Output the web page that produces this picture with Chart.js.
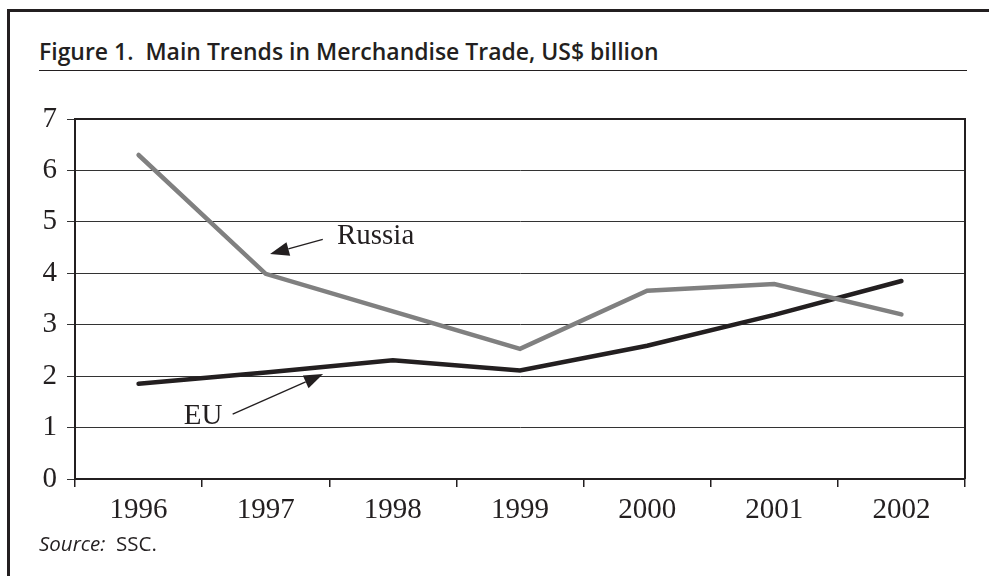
<!DOCTYPE html>
<html>
<head>
<meta charset="utf-8">
<script src="https://cdn.jsdelivr.net/npm/chart.js@4.4.0/dist/chart.umd.min.js"></script>
<style>
  html, body { margin: 0; padding: 0; background: #fff; }
  #wrap { position: relative; width: 989px; height: 576px; overflow: hidden; }
  #frame { position: absolute; left: 7px; top: 9px; width: 1200px; height: 800px;
           border-top: 3px solid #231f20; border-left: 3px solid #231f20; }
  #title { position: absolute; left: 39px; top: 36px; font-family: "Open Sans", Lato, sans-serif;
           font-weight: 600; font-size: 23px; line-height: 31px; color: #231f20; white-space: pre; }
  #rule { position: absolute; left: 39px; top: 70px; width: 928px; height: 0;
          border-top: 1.5px solid #231f20; }
  #source { position: absolute; left: 39px; top: 529px; font-family: "Open Sans", Lato, sans-serif;
            font-size: 20.5px; color: #231f20; white-space: pre; }
  canvas { position: absolute; left: 0; top: 0; }
</style>
</head>
<body>
<div id="wrap">
  <div id="frame"></div>
  <div id="title">Figure 1.  Main Trends in Merchandise Trade, US$ billion</div>
  <div id="rule"></div>
  <canvas id="c" width="989" height="576"></canvas>
  <div id="source"><i>Source:</i>  SSC.</div>
</div>
<script>
// Merchandise trade, US$ billion
const years = ['1996', '1997', '1998', '1999', '2000', '2001', '2002'];
const russia = [6.3, 3.99, 3.26, 2.53, 3.66, 3.79, 3.2];
const eu = [1.85, 2.07, 2.31, 2.11, 2.59, 3.19, 3.85];
const yTickValues = [0, 1, 2, 3, 4, 5, 6, 7];

const ink = '#231f20';
const serif = '"Liberation Serif", "Times New Roman", serif';
const tickSize = 29;

// size the heading so it spans the printed text block
(function fitTitle() {
  const t = document.getElementById('title');
  const target = 620;
  const w = t.getBoundingClientRect().width;
  if (w > 0) {
    const size = 23 * target / w;
    t.style.fontSize = size.toFixed(2) + 'px';
  }
})();

function arrow(ctx, x1, y1, x2, y2) {
  const ang = Math.atan2(y2 - y1, x2 - x1);
  const len = 19, half = 7;
  const bx = x2 - len * Math.cos(ang), by = y2 - len * Math.sin(ang);
  ctx.beginPath();
  ctx.moveTo(x1, y1);
  ctx.lineTo(bx, by);
  ctx.lineWidth = 1.3;
  ctx.strokeStyle = ink;
  ctx.stroke();
  ctx.beginPath();
  ctx.moveTo(x2, y2);
  ctx.lineTo(bx + half * Math.sin(ang), by - half * Math.cos(ang));
  ctx.lineTo(bx - half * Math.sin(ang), by + half * Math.cos(ang));
  ctx.closePath();
  ctx.fillStyle = ink;
  ctx.fill();
}

const decorations = {
  id: 'decorations',
  afterDraw(chart) {
    const { ctx, chartArea: a, scales: { x, y } } = chart;
    ctx.save();
    // closing top and right edges of the plot box
    ctx.strokeStyle = ink;
    ctx.lineWidth = 2;
    ctx.beginPath();
    ctx.moveTo(a.left, a.top);
    ctx.lineTo(a.right, a.top);
    ctx.lineTo(a.right, a.bottom);
    ctx.stroke();

    // series labels with pointers
    ctx.font = tickSize + 'px ' + serif;
    ctx.fillStyle = ink;
    ctx.textBaseline = 'alphabetic';
    ctx.textAlign = 'left';
    ctx.fillText('Russia', x.getPixelForValue(1.56), y.getPixelForValue(4.57));
    arrow(ctx, x.getPixelForValue(1.449), y.getPixelForValue(4.66),
               x.getPixelForValue(1.034), y.getPixelForValue(4.375));
    ctx.textAlign = 'center';
    ctx.fillText('EU', x.getPixelForValue(0.507), y.getPixelForValue(1.07));
    arrow(ctx, x.getPixelForValue(0.74), y.getPixelForValue(1.26),
               x.getPixelForValue(1.451), y.getPixelForValue(2.04));
    ctx.restore();
  }
};

new Chart(document.getElementById('c'), {
  type: 'line',
  data: {
    labels: years,
    datasets: [
      { label: 'Russia', data: russia, borderColor: '#808080', borderWidth: 4.5,
        pointRadius: 0, tension: 0, borderCapStyle: 'round', borderJoinStyle: 'miter' },
      { label: 'EU', data: eu, borderColor: ink, borderWidth: 4.5,
        pointRadius: 0, tension: 0, borderCapStyle: 'round', borderJoinStyle: 'miter' }
    ]
  },
  options: {
    responsive: false,
    animation: false,
    devicePixelRatio: 1,
    layout: { padding: { left: 0, top: 119, right: 24, bottom: 0 } },
    plugins: { legend: { display: false }, tooltip: { enabled: false }, title: { display: false } },
    scales: {
      x: {
        type: 'category',
        offset: true,
        afterFit(s) { s.height = 97; },
        grid: { offset: true, drawOnChartArea: false, drawTicks: true, tickLength: 8,
                color: ink, lineWidth: 1.5 },
        border: { display: true, color: ink, width: 2 },
        ticks: { font: { family: serif, size: tickSize }, color: ink, padding: 6, maxRotation: 0 }
      },
      y: {
        min: 0, max: 7,
        afterFit(s) { s.width = 75; },
        afterBuildTicks(s) { s.ticks = yTickValues.map(v => ({ value: v })); },
        grid: { color: '#333333', lineWidth: 1, drawTicks: true, tickLength: 8 },
        border: { display: true, color: ink, width: 2 },
        ticks: { font: { family: serif, size: tickSize }, color: ink, padding: 10 }
      }
    }
  },
  plugins: [decorations]
});
</script>
</body>
</html>
